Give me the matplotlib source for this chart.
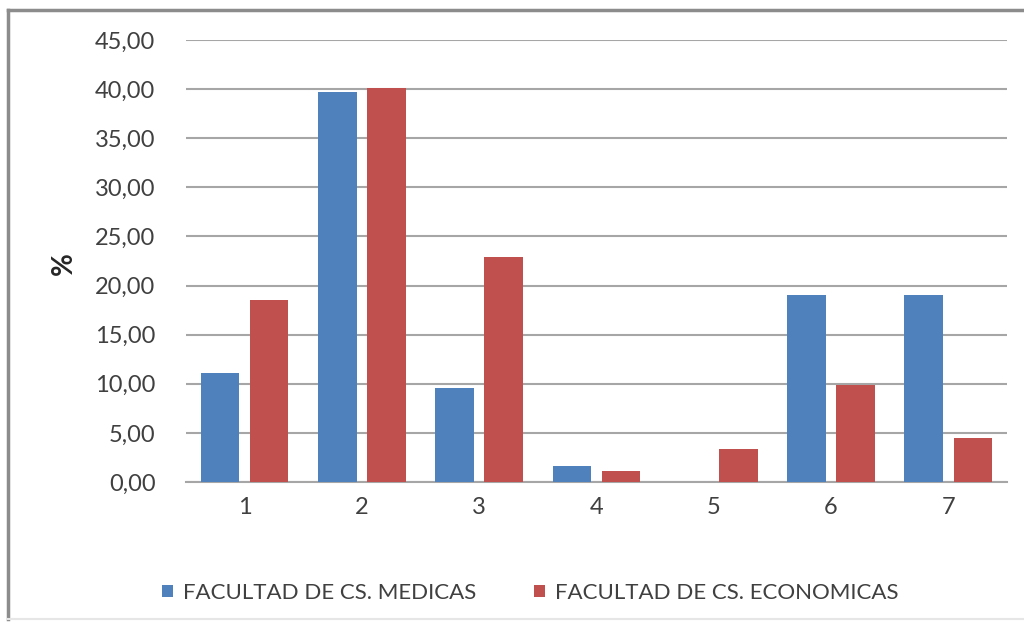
import numpy as np
import matplotlib.pyplot as plt
from matplotlib.lines import Line2D
from matplotlib.ticker import FuncFormatter

plt.rcParams['font.family'] = ['Lato', 'DejaVu Sans']

# Datos
categorias = ['1', '2', '3', '4', '5', '6', '7']
medicas = [11.1, 39.7, 9.6, 1.6, 0.0, 19.0, 19.0]
economicas = [18.5, 40.1, 22.9, 1.1, 3.4, 9.9, 4.5]
etiquetas = ['FACULTAD DE CS. MEDICAS', 'FACULTAD DE CS. ECONOMICAS']

azul = '#4F81BD'
rojo = '#C0504D'

fig = plt.figure(figsize=(10.24, 6.24), dpi=100)
ax = fig.add_axes([0.1816, 0.2276, 0.8018, 0.7083])

x = np.arange(1, len(categorias) + 1)
ancho = 0.33
b1 = ax.bar(x - 0.209, medicas, ancho, color=azul, label=etiquetas[0], zorder=3)
b2 = ax.bar(x + 0.209, economicas, ancho, color=rojo, label=etiquetas[1], zorder=3)

ax.set_xlim(0.5, 7.5)
ax.set_ylim(0, 45)
ax.set_yticks(np.arange(0, 46, 5))
ax.yaxis.set_major_formatter(FuncFormatter(lambda v, p: f'{v:.2f}'.replace('.', ',')))
ax.set_xticks(x)
ax.set_xticklabels(categorias)
ax.tick_params(axis='both', length=0, labelsize=17, colors='#404040')
ax.tick_params(axis='y', pad=22)
ax.tick_params(axis='x', pad=11)

ax.grid(axis='y', color='#A6A6A6', linewidth=1.5, zorder=0)
for s in ['top', 'right', 'left']:
    ax.spines[s].set_visible(False)
ax.spines['bottom'].set_color('#A6A6A6')
ax.spines['bottom'].set_linewidth(1.5)

fig.text(0.062, 0.578, '%', rotation=90, fontsize=20, fontweight='bold',
         color='#262626', ha='center', va='center')

fig.legend(handles=[b1, b2], labels=etiquetas, loc='center',
           bbox_to_anchor=(0.518, 0.05), ncol=2, frameon=False,
           fontsize=16, handlelength=0.5, handleheight=0.5,
           handletextpad=0.45, columnspacing=2.6, labelcolor='#404040')

# marco exterior
X0, Y0, Y1 = 8 / 1024, 5 / 624, 1 - 10 / 624
fig.add_artist(Line2D([X0, X0], [Y0, Y1], transform=fig.transFigure,
                      color='#8C8C8C', linewidth=2.5))
fig.add_artist(Line2D([X0, 1], [Y1, Y1], transform=fig.transFigure,
                      color='#8C8C8C', linewidth=2.5))
fig.add_artist(Line2D([X0, 1], [Y0, Y0], transform=fig.transFigure,
                      color='#E6E6E6', linewidth=1.5))

fig.savefig('out.png', dpi=100)
